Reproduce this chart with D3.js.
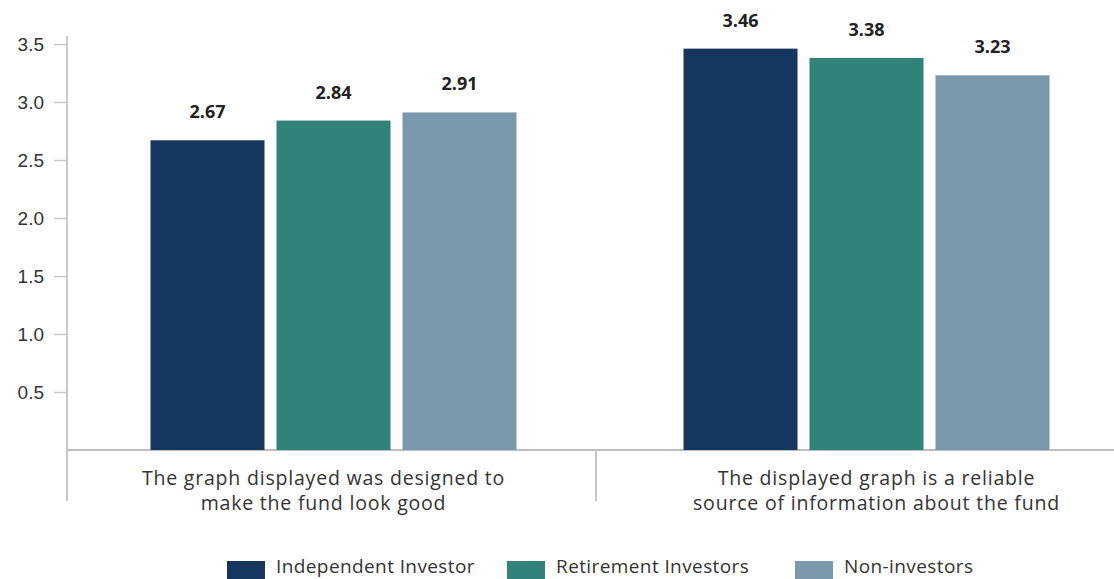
<!DOCTYPE html>
<html><head><meta charset="utf-8">
<script src="https://cdn.jsdelivr.net/npm/d3@7"></script>
<style>body{margin:0;background:#fff;} svg{display:block;font-family:"Open Sans",sans-serif;}</style>
</head><body>
<svg id="c" width="1114" height="579"></svg>
<script>
const categories = [
  ["The graph displayed was designed to", "make the fund look good"],
  ["The displayed graph is a reliable", "source of information about the fund"]
];
const seriesNames = ["Independent Investor", "Retirement Investors", "Non-investors"];
const seriesColors = ["#15375f", "#31837a", "#7a99ad"];
const values = [
  [2.67, 2.84, 2.91],
  [3.46, 3.38, 3.23]
];
const yTicks = [0.5, 1.0, 1.5, 2.0, 2.5, 3.0, 3.5];

const svg = d3.select("#c");
const x0 = 67, baseY = 450;
const y = d3.scaleLinear().domain([0, 3.5]).range([baseY, 44]);
const xCat = d3.scaleBand().domain(d3.range(categories.length)).range([x0, 1133]).padding(0);
const xSer = d3.scaleBand().domain(d3.range(seriesNames.length)).range([0, 366]).paddingInner(0.095);

// y axis
const yAxis = d3.axisLeft(y).tickValues(yTicks).tickFormat(d3.format(".1f")).tickSize(13).tickPadding(10);
const ga = svg.append("g").attr("transform", `translate(${x0},0)`).call(yAxis);
ga.select(".domain").remove();
ga.selectAll(".tick line").attr("stroke", "#c8c8c8").attr("stroke-width", 1.5).attr("x2", -1).attr("x1", -13);
ga.selectAll(".tick text").attr("fill", "#333").style("font-size", "19px").attr("x", -23);
svg.append("line").attr("x1", x0).attr("x2", x0).attr("y1", 36).attr("y2", 501)
  .attr("stroke", "#c8c8c8").attr("stroke-width", 2);
// baseline
svg.append("line").attr("x1", x0).attr("x2", 1114).attr("y1", baseY).attr("y2", baseY)
  .attr("stroke", "#bdbdbd").attr("stroke-width", 2);
// separators
categories.forEach((c, i) => {
  if (i > 0) svg.append("line").attr("x1", xCat(i) - 4).attr("x2", xCat(i) - 4).attr("y1", baseY).attr("y2", 501)
    .attr("stroke", "#c8c8c8").attr("stroke-width", 2);
});

// bars
const groups = svg.selectAll(".grp").data(values).join("g")
  .attr("transform", (d, i) => `translate(${xCat(i) + (xCat.bandwidth() - 366) / 2},0)`);
groups.selectAll("rect").data(d => d).join("rect")
  .attr("x", (d, j) => xSer(j)).attr("width", xSer.bandwidth())
  .attr("y", d => y(d)).attr("height", d => baseY - y(d))
  .attr("fill", (d, j) => seriesColors[j]);
groups.selectAll("text").data(d => d).join("text")
  .attr("x", (d, j) => xSer(j) + xSer.bandwidth() / 2)
  .attr("y", d => y(d) - 22)
  .attr("text-anchor", "middle").attr("fill", "#222")
  .style("font-size", "18px").style("font-weight", "700")
  .text(d => d3.format(".2f")(d));

// category labels
categories.forEach((lines, i) => {
  const t = svg.append("text").attr("text-anchor", "middle").attr("fill", "#333")
    .style("font-size", "19.5px").style("letter-spacing", "0.8px");
  lines.forEach((l, k) => t.append("tspan").attr("x", xCat(i) + xCat.bandwidth() / 2 - 10 + i * 20).attr("y", 485 + k * 25).text(l));
});

// legend
const legX = [227, 507, 795];
seriesNames.forEach((s, j) => {
  svg.append("rect").attr("x", legX[j]).attr("y", 561).attr("width", 38).attr("height", 18).attr("fill", seriesColors[j]);
  svg.append("text").attr("x", legX[j] + 49).attr("y", 573).attr("fill", "#333")
    .style("font-size", "19px").style("letter-spacing", "0.4px").text(s);
});
</script>
</body></html>
